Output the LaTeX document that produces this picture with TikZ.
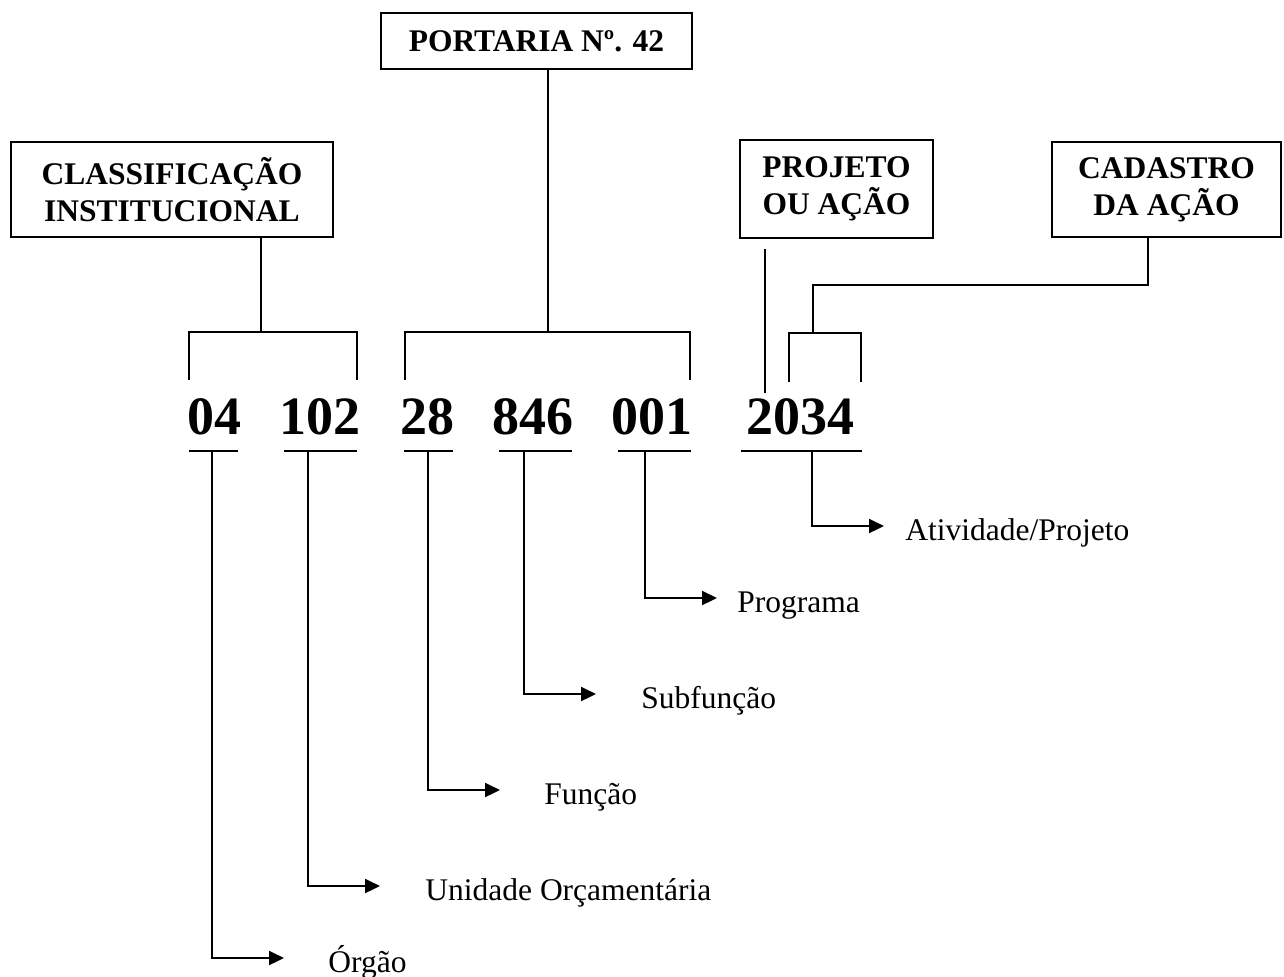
\documentclass[tikz,border=0pt]{standalone}
\usepackage{fontspec}
\setmainfont{Liberation Serif}
\usetikzlibrary{arrows.meta}
\tikzset
{
	my box/.style={draw,line width=1.1pt,align=center,inner sep=0pt,font=\fontsize{15.75}{18.5}\selectfont\bfseries},
	my code/.style={inner sep=0pt,anchor=base,font=\fontsize{27}{30}\selectfont\bfseries},
	my tag/.style={inner sep=0pt,anchor=base west,font=\fontsize{15.75}{18}\selectfont},
	my link/.style={line width=1.1pt},
	my pointer/.style={my link,-{Triangle[length=7.5pt,width=7pt]}}
}

\begin{document}
\begin{tikzpicture}[x=0.5pt,y=-0.5pt]
	\useasboundingbox (0,0) rectangle (1284,976);
	% boxes
	\node[my box,minimum width=155.5pt,minimum height=28pt] (portaria) at (536.5,41) {PORTARIA Nº. 42};
	\node[my box,minimum width=161pt,minimum height=47.5pt] (classif) at (172,189.5) {CLASSIFICAÇÃO\\INSTITUCIONAL};
	\node[my box,minimum width=96.5pt,minimum height=49pt] (projeto) at (836.5,189) {PROJETO\\OU AÇÃO};
	\node[my box,minimum width=114.5pt,minimum height=47.5pt] (cadastro) at (1166.5,189.5) {CADASTRO\\DA AÇÃO};
	% numbers and rules
	\foreach \name/\x/\l/\r in {04/214/189/238, 102/320/284/357, 28/427/404/453, 846/533/499/572, 001/652/618/691, 2034/800/741/862}
	{
		\node[my code] (n\name) at (\x,434) {\name};
		\draw[my link] (\l,451) -- (\r,451);
	}
	% brackets
	\coordinate (cl) at (261,332);
	\draw[my link] (classif.south -| cl) -- (cl);
	\draw[my link] (189,380) |- (357,332) -- (357,380);
	\coordinate (po) at (548,332);
	\draw[my link] (portaria.south -| po) -- (po);
	\draw[my link] (405,380) |- (690,332) -- (690,380);
	\coordinate (pj) at (765,393);
	\draw[my link,shorten >=5pt] (pj) -- (projeto.south -| pj);
	\coordinate (cd) at (813,333);
	\coordinate (ck) at (1148,285);
	\draw[my link] (cadastro.south -| ck) -- (ck) -| (cd);
	\draw[my link] (789,382) |- (861,333) -- (861,382);
	% pointers
	\foreach[count=\i] \vx/\ay/\tx/\txt in {212/958/328/Órgão, 308/886/425/Unidade Orçamentária, 428/790/544/Função, 524/694/641/Subfunção, 645/598/737/Programa, 812/526/905/{Atividade/Projeto}}
	{
		\coordinate (top\i) at (\vx,451);
		\coordinate (tip\i) at (\vx+72,\ay);
		\node[my tag] (tag\i) at (\tx,\ay+14) {\txt};
		\draw[my pointer] (top\i) |- (tip\i);
	}
\end{tikzpicture}
\end{document}
